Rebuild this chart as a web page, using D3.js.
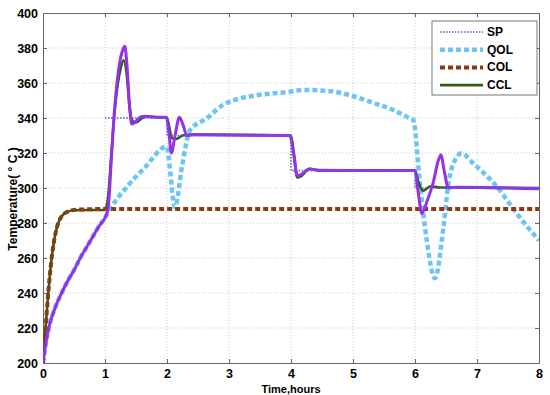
<!DOCTYPE html>
<html><head><meta charset="utf-8">
<script src="https://cdn.jsdelivr.net/npm/d3@7"></script>
<style>body{margin:0;background:#fff}svg{display:block}text{font-family:"Liberation Sans",Arial,sans-serif;font-weight:bold}</style>
</head><body><svg id="c" width="550" height="395"></svg>
<script>
const xTicks=[0,1,2,3,4,5,6,7,8];
const yTicks=[200,220,240,260,280,300,320,340,360,380,400];
const legendLabels=["SP","QOL","COL","CCL"];

const spT=[1,2,2,4,4,6,6,8];
const spV=[340,340,330,330,310,310,300,300];

const qolT=[0,0.05,0.1,0.2,0.3,0.4,0.5,0.6,0.7,0.8,0.9,1.0,1.1,1.38,1.65,1.99,2.13,2.24,2.37,2.64,2.9,3.18,3.45,3.98,4.2,4.6,4.95,5.33,5.65,5.92,5.97,6.08,6.19,6.32,6.46,6.54,6.62,6.75,6.94,7.32,7.64,8.0];
const qolV=[200,212,221,232,240,247,253,260,266,272,278,283,289,301.7,312,323.6,289,312,333,339.8,347.4,351.2,353,355,356,355.5,353,348.6,344.6,339.8,339,302.7,270,248.4,278,302.7,314,319.8,314,300.8,285.5,270];

const colT=[0,0.02,0.05,0.08,0.11,0.14,0.18,0.22,0.27,0.33,0.4,0.5,1.0,8.0];
const colV=[200,210,224,238,250,260,270,277,282,285,286.5,287.5,288,288];

const cclT=[0,0.02,0.05,0.08,0.11,0.14,0.18,0.22,0.27,0.33,0.4,0.5,1.0,1.05,1.1,1.15,1.2,1.25,1.3,1.35,1.4,1.45,1.5,1.6,1.7,1.8,2.0,2.03,2.08,2.15,2.25,2.4,4.0,4.05,4.1,4.15,4.3,4.45,6.0,6.05,6.13,6.25,6.4,8.0];
const cclV=[200,210,224,238,250,260,270,277,282,285,286.5,287.3,287.5,295,318,342,358,368,373,365,345,338,337.5,340,341,340.5,340,336,328.5,328,330,330.5,330,318,306,306.5,311,310.2,310,304,298.5,301,300.3,300];

const pT=[0,0.05,0.1,0.2,0.3,0.4,0.5,0.6,0.7,0.8,0.9,1.0,1.05,1.1,1.15,1.2,1.25,1.3,1.32,1.35,1.4,1.43,1.5,1.56,1.65,1.8,1.99,2.03,2.07,2.13,2.2,2.26,2.32,2.45,3.98,4.05,4.1,4.15,4.3,4.45,6.0,6.05,6.11,6.2,6.3,6.37,6.42,6.47,6.54,6.7,8.0];
const pV=[200,212,221,232,240,247,253,260,266,272,278,283,288,315,343,362,374,380,381,372,345,336.6,338,340.4,341,340.5,340.4,332,320,330,340.4,336,330,330.5,330,318,307,307.5,310.8,310,310,298,285.5,293,304,315,319,310,300,300.5,299.5];

const W=550,H=395,m={l:43,r:11,t:13,b:32};
const svg=d3.select("#c");
const x=d3.scaleLinear().domain([0,8]).range([m.l,W-m.r]);
const y=d3.scaleLinear().domain([200,400]).range([H-m.b,m.t]);

// grid
svg.append("g").selectAll("line").data(xTicks.slice(1,-1)).join("line")
 .attr("x1",d=>x(d)).attr("x2",d=>x(d)).attr("y1",y(200)).attr("y2",y(400))
 .attr("stroke","#bbb").attr("stroke-dasharray","1,2").attr("stroke-width",0.8);
svg.append("g").selectAll("line").data(yTicks.slice(1,-1)).join("line")
 .attr("y1",d=>y(d)).attr("y2",d=>y(d)).attr("x1",x(0)).attr("x2",x(8))
 .attr("stroke","#bbb").attr("stroke-dasharray","1,2").attr("stroke-width",0.8);

// axes
const xa=svg.append("g").attr("transform",`translate(0,${y(200)})`)
 .call(d3.axisBottom(x).tickValues(xTicks).tickSize(-4).tickPadding(6).tickFormat(d3.format("d")));
const ya=svg.append("g").attr("transform",`translate(${x(0)},0)`)
 .call(d3.axisLeft(y).tickValues(yTicks).tickSize(-4).tickPadding(5).tickFormat(d3.format("d")));
[xa,ya].forEach(a=>{a.selectAll("path,line").attr("stroke","#666");a.selectAll("text").attr("font-size",12.5).attr("fill","#000").style("font-family","Liberation Sans, Arial, sans-serif").style("font-weight","bold");});
svg.append("g").attr("transform",`translate(${x(8)},0)`).call(d3.axisRight(y).tickValues(yTicks).tickSize(-4).tickFormat(""))
 .selectAll("path,line").attr("stroke","#666");
svg.append("g").attr("transform",`translate(0,${y(400)})`).call(d3.axisTop(x).tickValues(xTicks).tickSize(-4).tickFormat(""))
 .selectAll("path,line").attr("stroke","#666");

const line=(c)=>d3.line().x(d=>x(d[0])).y(d=>y(d[1])).curve(c||d3.curveMonotoneX);
const zip=(a,b)=>a.map((t,i)=>[t,b[i]]);
svg.append("clipPath").attr("id","pc").append("rect").attr("x",x(0)).attr("y",y(400)).attr("width",x(8)-x(0)).attr("height",y(200)-y(400));
const g=svg.append("g").attr("clip-path","url(#pc)");

g.append("path").attr("d",line()(zip(qolT,qolV))).attr("fill","none").attr("stroke","#6ec4f2").attr("stroke-width",4.5).attr("stroke-dasharray","5,3");
g.append("path").attr("d",line()(zip(cclT,cclV))).attr("fill","none").attr("stroke","#2f5f0c").attr("stroke-width",2.6);
g.append("path").attr("d",line()(zip(colT,colV))).attr("fill","none").attr("stroke","#8b3a12").attr("stroke-width",4).attr("stroke-dasharray","5,3");
g.append("path").attr("d",line()(zip(pT,pV))).attr("fill","none").attr("stroke","#9430e8").attr("stroke-width",3);
g.append("path").attr("d",line(d3.curveLinear)(zip(spT,spV))).attr("fill","none").attr("stroke","#6a5ad8").attr("stroke-width",1.6).attr("stroke-dasharray","1.5,1.5");

// labels
svg.append("text").attr("x",291).attr("y",393).attr("text-anchor","middle").attr("font-size",11).text("Time,hours");
svg.append("text").attr("transform","translate(17,199) rotate(-90)").attr("text-anchor","middle").attr("font-size",12).text("Temperature( ° C )");

// legend
const lg=svg.append("g");
lg.append("rect").attr("x",432).attr("y",21).attr("width",105).attr("height",74).attr("fill","#fff").attr("stroke","#555").attr("stroke-width",0.8);
const sty=[{c:"#6a5ad8",w:1.6,d:"1.5,1.5"},{c:"#6ec4f2",w:4.5,d:"5,3"},{c:"#8b3a12",w:4,d:"5,3"},{c:"#2f5f0c",w:2.6,d:null}];
legendLabels.forEach((s,i)=>{
 const yy=32+i*17.7;
 lg.append("line").attr("x1",440).attr("x2",483).attr("y1",yy).attr("y2",yy).attr("stroke",sty[i].c).attr("stroke-width",sty[i].w).attr("stroke-dasharray",sty[i].d);
 lg.append("text").attr("x",487).attr("y",yy+4).attr("font-size",12).text(s);
});
</script></body></html>
